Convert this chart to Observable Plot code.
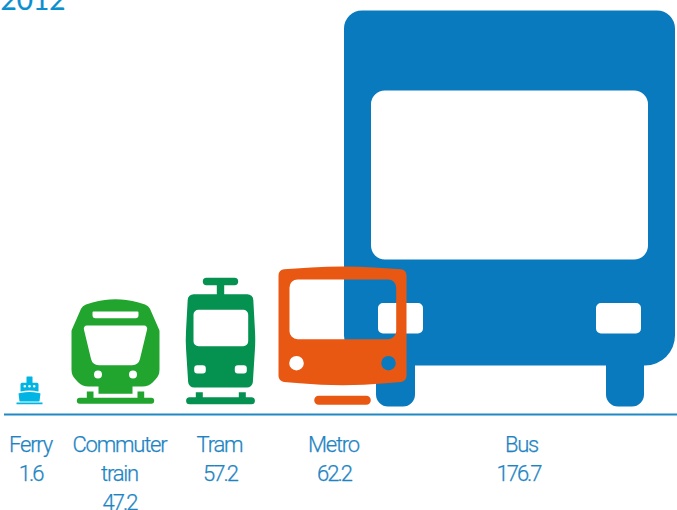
<!DOCTYPE html>
<html>
<head>
<meta charset="utf-8">
<script src="https://cdn.jsdelivr.net/npm/d3@7"></script>
<script src="https://cdn.jsdelivr.net/npm/@observablehq/plot@0.6"></script>
<style>
  html, body { margin: 0; padding: 0; background: #fff; }
  svg { display: block; }
  .mode-name text { letter-spacing: -1.2px; }
  .mode-value text { letter-spacing: -2px; }
</style>
</head>
<body>
<div id="chart"></div>
<script>
// Public transport journeys by mode, millions
const year = "2012";
const modes = ["Ferry", "Commuter\ntrain", "Tram", "Metro", "Bus"];
const journeys = [1.6, 47.2, 57.2, 62.2, 176.7];

// The ferry would vanish at true scale, so its pictogram has a minimum height
const minPictogramValue = 12.5;

const width = 677;
const height = 510;
const baselineY = 406;
const maxIconY = 10;
const pxPerUnit = (baselineY - maxIconY) / 176.7;

const colors = {Ferry: "#00b5e3", Commuter: "#21a52e", Tram: "#059150", Metro: "#e95813", Bus: "#0a7abf"};
const inkBlue = "#1d84c3";

// A pen working in pictogram units: x from the icon's centre, y up from the baseline.
// Solid parts run clockwise on screen and cut-outs anticlockwise, so holes stay see-through.
function pen(ctx, s) {
  const X = (x) => x * s;
  const Y = (y) => -y * s;
  return {
    shape(points) {
      const n = points.length;
      const last = points[n - 1];
      const first = points[0];
      ctx.moveTo(X((last[0] + first[0]) / 2), Y((last[1] + first[1]) / 2));
      for (let i = 0; i < n; ++i) {
        const p = points[i];
        const q = points[(i + 1) % n];
        ctx.arcTo(X(p[0]), Y(p[1]), X((p[0] + q[0]) / 2), Y((p[1] + q[1]) / 2), (p[2] || 0) * s);
      }
      ctx.closePath();
    },
    box(x0, y0, x1, y1, r) {
      this.shape([[x0, y1, r], [x1, y1, r], [x1, y0, r], [x0, y0, r]]);
    },
    hole(x0, y0, x1, y1, r) {
      this.shape([[x0, y1, r], [x0, y0, r], [x1, y0, r], [x1, y1, r]]);
    },
    circleHole(x, y, r) {
      ctx.moveTo(X(x) + r * s, Y(y));
      ctx.arc(X(x), Y(y), r * s, 0, 2 * Math.PI, true);
      ctx.closePath();
    }
  };
}

// d3-style symbol: Plot hands over the size, whose radius is the icon's height in pixels
const pictogram = (value, draw) => ({
  draw(ctx, size) {
    const s = Math.sqrt(size / Math.PI) / (value * pxPerUnit);
    draw(pen(ctx, s));
  }
});

const ferryIcon = pictogram(minPictogramValue, (p) => {
  p.box(-3, 22, 3, 30, 0.5);
  p.shape([[-9, 15, 0.5], [-9, 23.8, 1.5], [9, 23.8, 1.5], [9, 15, 0.5], [0, 16.4, 30]]);
  [-4.7, 0, 4.7].forEach((x) => p.circleHole(x, 20.3, 1.3));
  p.shape([[-11, 13.2, 0.5], [0, 14.8, 30], [11, 13.2, 0.5], [10, 5, 0.5], [-10, 5, 0.5]]);
  p.box(-13, 2.2, 13, 4, 0);
});

const commuterIcon = pictogram(47.2, (p) => {
  p.shape([
    [-44, 76, 4], [-33, 101, 8], [-17, 106, 60], [0, 107.6, 60], [17, 106, 60], [33, 101, 8], [44, 76, 4],
    [44, 31, 14], [33, 20, 14], [17, 20, 0], [17, 12.7, 0], [-17, 12.7, 0],
    [-17, 20, 0], [-33, 20, 14], [-44, 31, 14]
  ]);
  p.shape([[-32.5, 81, 3], [-23, 41.3, 8], [23, 41.3, 8], [32.5, 81, 3]]);
  p.shape([[-23, 95, 1], [-23, 88.3, 3], [23, 88.3, 3], [23, 95, 1]]);
  p.circleHole(-17.5, 32, 4);
  p.circleHole(17.5, 32, 4);
  p.box(-38.7, 2.7, 38.7, 8.7, 3);
  p.box(-28.7, 8, -22, 15, 0);
  p.box(22, 8, 28.7, 15, 0);
});

const tramIcon = pictogram(57.2, (p) => {
  p.box(-17.7, 121.3, 17.7, 128.7, 3.7);
  p.box(-3.7, 112, 3.7, 122, 0);
  p.shape([
    [-32.5, 112.3, 6], [32.5, 112.3, 6], [35, 66, 150],
    [32, 19, 6], [-32, 19, 6], [-35, 66, 150]
  ]);
  p.hole(-27, 60.3, 27.7, 96.7, 5);
  p.hole(-26.3, 33, -14.7, 41.3, 3);
  p.hole(14.3, 33, 26.3, 41.3, 3);
  p.box(-34.4, 2.3, 34.4, 9.3, 3.5);
  p.box(-24.7, 8, -17.7, 14.3, 0);
  p.box(18.3, 8, 25.3, 14.3, 0);
});

const metroIcon = pictogram(62.2, (p) => {
  p.shape([
    [-64, 137, 6], [0, 141, 500], [64, 137, 6],
    [64, 25, 6], [0, 19.5, 500], [-64, 25, 6]
  ]);
  p.hole(-53, 67.3, 53.7, 127, 8);
  p.circleHole(-46, 43.3, 7.3);
  p.circleHole(46, 43.3, 7.3);
  p.box(-28.3, 1.7, 28.3, 10.7, 4.5);
});

const busIcon = pictogram(176.7, (p) => {
  p.shape([[-165.5, 396, 18], [165.5, 396, 18], [165.5, 41, 30], [-165.5, 41, 30]]);
  p.hole(-138.5, 147, 138.5, 316, 14);
  p.hole(-131.5, 73, -86.5, 103.5, 5);
  p.hole(86.5, 73, 131.5, 103.5, 5);
  p.box(-133.5, 0, -94.5, 60, 12);
  p.box(96.5, 0, 134.5, 60, 12);
});

// Where each pictogram and each caption sits along the row
const iconLayout = [
  {i: 4, symbol: busIcon, x: 509, color: colors.Bus},
  {i: 3, symbol: metroIcon, x: 342, color: colors.Metro},
  {i: 2, symbol: tramIcon, x: 220, color: colors.Tram},
  {i: 1, symbol: commuterIcon, x: 115, color: colors.Commuter},
  {i: 0, symbol: ferryIcon, x: 29, color: colors.Ferry}
];
const nameX = [30, 119, 219, 333, 521];
const valueX = [30, 119, 219.5, 333.5, 518];

// Names and values are separate marks; a value starts on the line below its name
const names = modes.map((mode, i) => ({text: mode, x: nameX[i]}));
const values = modes.map((mode, i) => ({
  text: "\n".repeat(mode.split("\n").length) + journeys[i],
  x: valueX[i]
}));

const captionStyle = {
  x: "x",
  y: () => 0,
  text: "text",
  dy: 25,
  lineAnchor: "top",
  lineHeight: 29 / 22,
  fontSize: 22,
  fontWeight: 300,
  fontFamily: "Roboto",
  fill: inkBlue,
  stroke: inkBlue,
  strokeWidth: 0.25
};

const iconMarks = iconLayout.map(({i, symbol, x, color}) =>
  Plot.dot([Math.max(journeys[i], minPictogramValue)], {
    x: () => x,
    y: () => 0,
    r: (d) => d,
    symbol,
    fill: color
  })
);

const chart = Plot.plot({
  width,
  height,
  margin: 0,
  style: {background: "#fff", fontFamily: "Roboto", overflow: "hidden"},
  x: {type: "linear", domain: [0, width], range: [0, width], axis: null},
  y: {type: "linear", domain: [0, 176.7], range: [baselineY, maxIconY], axis: null},
  r: {type: "linear", domain: [0, 176.7], range: [0, baselineY - maxIconY]},
  marks: [
    ...iconMarks,
    Plot.ruleY([0], {x1: () => 4, x2: () => width, dy: 8, stroke: "#1f88c5", strokeWidth: 1.8}),
    Plot.text(names, {...captionStyle, className: "mode-name"}),
    Plot.text(values, {...captionStyle, className: "mode-value"}),
    Plot.text([year], {
      frameAnchor: "top-left",
      lineAnchor: "bottom",
      dy: 9,
      fontSize: 28,
      fontFamily: "Lato",
      fill: "#0a8fd0",
      stroke: "#0a8fd0",
      strokeWidth: 0.2
    })
  ]
});

document.getElementById("chart").append(chart);
</script>
</body>
</html>
